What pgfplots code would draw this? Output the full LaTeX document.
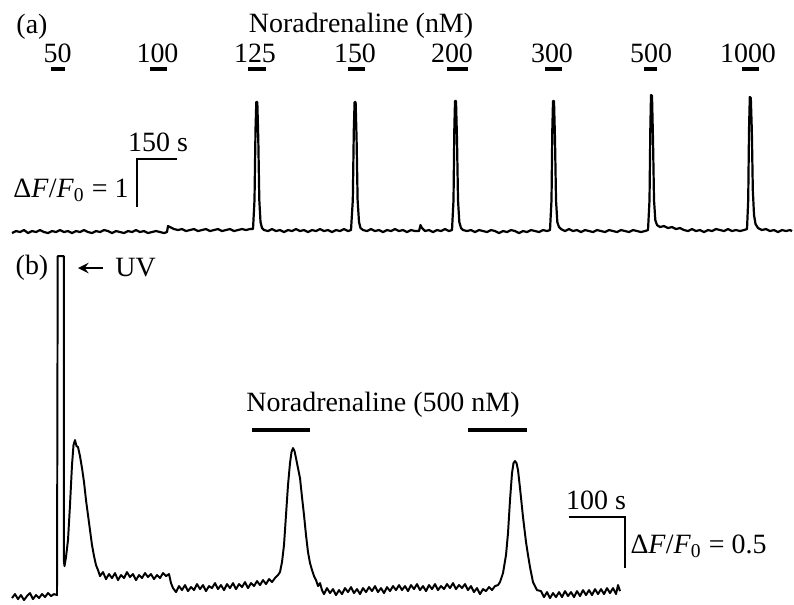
\documentclass[border=0pt]{standalone}
\usepackage{fontspec}
\setmainfont{Liberation Serif}
\usepackage{pgfplots}
\pgfplotsset{compat=1.18}

\newcommand{\dff}{Δ\textit{F}/\textit{F}\textsubscript{0} = }

\begin{document}
\begin{tikzpicture}[every node/.style={font=\fontsize{11.4}{13.5}\selectfont, inner sep=0pt}]
\begin{axis}[
  scale only axis, width=324pt, height=246.5pt,
  xmin=0, xmax=794, ymin=0, ymax=604, y dir=reverse,
  axis lines=none, clip=false,
]
\path (axis cs:0,0) rectangle (axis cs:794,604);

% ---------- panel (a) ----------
\addplot[black, line width=0.9pt, line join=round] coordinates {
(12,233)(16,231)(20,232)(24,230)(28,233)(32,231)(36,232)(40,230)(44,232)(48,233)(52,231)(56,232)(60,230)(64,232)(68,231)(72,233)(76,231)(80,232)(84,230)(88,232)(92,233)(96,231)(100,232)(104,230)(108,231)(112,233)(116,231)(120,232)(124,233)(128,231)(132,232)(136,230)(140,232)(144,231)(148,233)(152,232)(156,231)(160,232)(164,233)(167,232)(168,226)(170,227)(174,229)(178,230)(182,229)(186,231)(190,230)(194,229)(198,231)(202,230)(206,229)(210,231)(214,230)(218,229)(222,231)(226,230)(230,229)(234,231)(238,230)(242,229)(246,230)(250,229)(253,229)
(254.5,200)(255.5,130)(256.3,102)(257.3,102)(258.3,140)(259.3,200)(260.5,222)(262,228)(264,230)
(268,231)(272,229)(276,231)(280,230)(284,232)(288,230)(292,231)(296,229)(300,231)(304,230)(308,232)(312,230)(316,231)(320,229)(324,231)(328,230)(332,232)(336,230)(340,231)(344,229)(348,231)(351,230)
(352.8,200)(353.8,130)(354.6,102)(355.6,102)(356.6,140)(357.6,200)(359,222)(360.5,228)(363,230)
(367,231)(371,229)(375,231)(379,230)(383,232)(387,230)(391,231)(395,229)(399,231)(403,230)(407,232)(411,230)(415,231)(419,231)(420.5,225)(422,228)(425,231)(429,230)(433,232)(437,230)(441,231)(445,229)(449,231)(452,230)
(453.5,200)(454.3,130)(455,101)(456,101)(457,140)(458,200)(459.3,222)(461,228)(463,230)
(467,231)(471,230)(475,232)(479,230)(483,231)(487,232)(491,230)(495,231)(499,233)(503,231)(507,232)(511,230)(515,231)(519,233)(523,231)(527,232)(531,230)(535,231)(539,232)(543,230)(547,231)(550,230)
(551.5,200)(552.3,130)(553,101)(554,101)(555,140)(556,200)(557.3,222)(559,227)(561,229)
(565,231)(569,229)(573,231)(577,230)(581,232)(585,230)(589,231)(593,232)(597,230)(601,231)(605,232)(609,230)(613,231)(617,232)(621,230)(625,231)(629,232)(633,230)(637,231)(641,232)(645,231)(648,230)
(649.5,200)(650.3,130)(651,95)(652,96)(653,140)(654,200)(655.3,220)(657,225)(660,227)(664,226)(668,228)(672,227)(676,229)(680,228)(684,230)(688,231)(692,229)(696,231)(700,230)(704,232)(708,230)(712,231)(716,229)(720,230)(724,231)(728,229)(732,231)(736,230)(740,231)(744,230)(747,229)
(748.2,200)(749,130)(749.8,97)(750.8,98)(751.8,130)(752.8,190)(754,215)(755.5,224)(758,228)
(762,230)(766,229)(770,231)(774,230)(778,232)(782,230)(786,231)(790,230)(792,231)
};

% stimulus bars (a)
\addplot[black, line width=1.4pt] coordinates {(51,69)(65,69)};
\addplot[black, line width=1.4pt] coordinates {(150,69)(167,69)};
\addplot[black, line width=1.4pt] coordinates {(248,69)(266,69)};
\addplot[black, line width=1.4pt] coordinates {(348,69)(365,69)};
\addplot[black, line width=1.4pt] coordinates {(447,69)(468,69)};
\addplot[black, line width=1.4pt] coordinates {(545,69)(562,69)};
\addplot[black, line width=1.4pt] coordinates {(644,69)(657,69)};
\addplot[black, line width=1.4pt] coordinates {(742,69)(759,69)};
% scale bar (a)
\addplot[black, line width=0.7pt] coordinates {(177,159)(137,159)(137,207)};

\node at (axis cs:32,27) {(a)};
\node at (axis cs:361,26) {Noradrenaline (nM)};
\node at (axis cs:57.5,53) {50};
\node at (axis cs:157.5,53) {100};
\node at (axis cs:255,53) {125};
\node at (axis cs:355,53) {150};
\node at (axis cs:452,53) {200};
\node at (axis cs:552,53) {300};
\node at (axis cs:651,53) {500};
\node at (axis cs:748,53) {1000};
\node at (axis cs:158,142) {150 s};
\node[anchor=west] at (axis cs:13,190) {\dff 1};

% ---------- panel (b) ----------
\addplot[black, line width=0.8pt, line join=round] coordinates {
(12,598)(15,594)(18,599)(21,595)(24,600)(27,596)(30,593)(33,599)(36,595)(39,598)(42,594)(45,597)(48,593)(51,596)(54,594)(57,595)
(57.7,256)(63.8,256)(63.8,560)(64.5,566)(66,557)(68,540)(70,505)(72,465)(73.5,445)(75,440)(76.5,446)(78,447)(80,456)(82,468)(84,482)(86,500)(88,515)(90,530)(92,545)(94,556)(96,565)(98,570)(100,576)(103,572)(106,579)(109,574)(112,578)(115,573)(118,580)(121,575)(124,578)(127,572)(130,577)(133,574)(136,580)(139,575)(142,578)(145,573)(148,577)(151,574)(154,579)(157,575)(160,578)(163,573)(166,576)(169,574)(171,583)(173,588)(176,592)(179,586)(182,590)(185,585)(188,591)(191,587)(194,590)(197,584)(200,589)(203,585)(206,591)(209,586)(212,588)(215,583)(218,589)(221,585)(224,590)(227,584)(230,588)(233,583)(236,589)(239,584)(242,587)(245,582)(248,588)(251,583)(254,586)(257,581)(260,585)(263,580)(266,584)(269,579)(272,582)(275,578)(278,575)(280,572)(282,562)(284,545)(286,515)(288,485)(290,463)(291.5,452)(293,448)(294.5,451)(296,458)(298,468)(300,478)(302,497)(304,515)(306,535)(308,552)(310,563)(312,570)(314,576)(316,580)(318,586)(320,583)(322,590)(324,594)(327,588)(330,593)(333,589)(336,595)(339,590)(342,594)(345,588)(348,592)(351,587)(354,593)(357,589)(360,594)(363,588)(366,592)(369,587)(372,591)(375,586)(378,592)(381,588)(384,593)(387,587)(390,591)(393,586)(396,590)(399,585)(402,590)(405,586)(408,591)(411,585)(414,589)(417,584)(420,590)(423,586)(426,591)(429,585)(432,589)(435,584)(438,590)(441,586)(444,589)(447,584)(450,588)(453,583)(456,589)(459,585)(462,588)(465,584)(468,590)(471,586)(474,592)(477,588)(480,594)(483,589)(486,591)(489,587)(492,590)(495,586)(498,585)
(500,582)(503,573)(506,555)(508,533)(510,500)(512,473)(513.5,463)(515,461)(516.5,463)(518,470)(520,488)(523,517)(526,542)(528,555)(530,567)(533,582)(537,590)
(541,591)(544,597)(547,592)(550,598)(553,593)(556,597)(559,592)(562,597)(565,591)(568,596)(571,592)(574,597)(577,591)(580,596)(583,590)(586,595)(589,590)(592,595)(595,589)(598,594)(601,589)(604,594)(607,588)(610,593)(613,588)(616,594)(618,585)(620,591)
};

% stimulus bars (b)
\addplot[black, line width=1.6pt] coordinates {(252,430)(310,430)};
\addplot[black, line width=1.6pt] coordinates {(468,430)(527,430)};
% scale bar (b)
\addplot[black, line width=0.7pt] coordinates {(569,517)(625,517)(625,568)};

\node at (axis cs:32,268) {(b)};
\draw[-stealth, line width=0.9pt] (axis cs:103,268) -- (axis cs:78,268);
\node[anchor=west] at (axis cs:115,268) {UV};
\node at (axis cs:383,405) {Noradrenaline (500 nM)};
\node at (axis cs:596,500) {100 s};
\node[anchor=west] at (axis cs:630,546) {\dff 0.5};
\end{axis}
\end{tikzpicture}
\end{document}
